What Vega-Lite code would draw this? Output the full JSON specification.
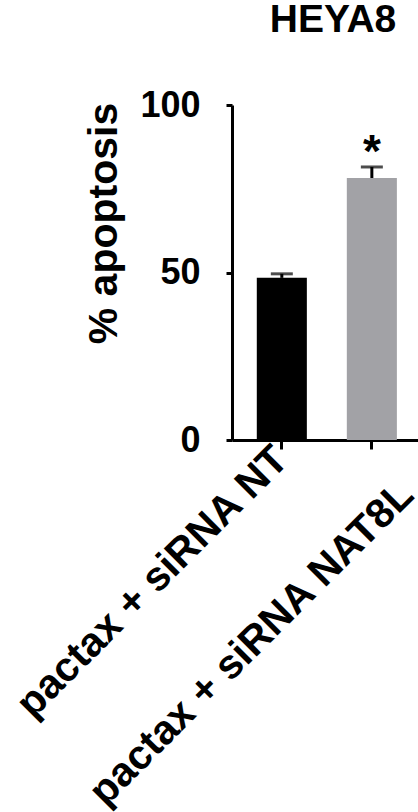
{
  "$schema": "https://vega.github.io/schema/vega-lite/v6.json",
  "width": 186,
  "height": 335,
  "autosize": {"type": "none"},
  "padding": {"left": 232, "top": 105, "right": 0, "bottom": 372},
  "background": "white",
  "config": {"view": {"stroke": null}, "font": "Liberation Sans"},
  "title": {"text": "HEYA8", "fontSize": 39, "font": "Liberation Sans", "fontWeight": "bold", "anchor": "middle", "offset": 47, "dx": 8, "color": "black"},
  "data": {"values": [
    {"group": "pactax + siRNA NT", "value": 48.4, "upper": 49.6, "sig": ""},
    {"group": "pactax + siRNA NAT8L", "value": 78.2, "upper": 81.5, "sig": "*"}
  ]},
  "encoding": {
    "x": {"field": "group", "type": "nominal", "sort": null,
      "scale": {"paddingInner": 0.444, "paddingOuter": 0.255, "align": 0.54},
      "axis": {"title": null, "labelAngle": -45, "labelAlign": "right", "labelBaseline": "middle", "labelFontSize": 41, "labelFontWeight": "bold", "labelColor": "black", "labelLimit": 0,
        "labelExpr": "datum.value === 'pactax + siRNA NAT8L' ? ['', datum.value] : datum.value",
        "labelLineHeight": 50,
        "labelPadding": 4,
        "tickSize": 9, "tickWidth": 3, "tickColor": "black", "domainWidth": 3, "domainColor": "black", "grid": false}
    }
  },
  "layer": [
    {"mark": {"type": "bar"},
     "encoding": {
       "y": {"field": "value", "type": "quantitative", "scale": {"domain": [0, 100]},
         "axis": {"title": "% apoptosis", "titleFontSize": 41, "titleFontWeight": "bold", "titleColor": "black", "titleX": -128, "titleY": 118, "titleAngle": -90, "titleAlign": "center", "titleBaseline": "middle",
           "values": [0, 50, 100], "grid": false, "labelFontSize": 36, "labelFontWeight": "bold", "labelColor": "black", "labelPadding": 26, "labelFlush": false, "tickSize": 6, "tickWidth": 3, "tickColor": "black", "domainWidth": 3, "domainColor": "black"}},
       "color": {"field": "group", "type": "nominal", "scale": {"domain": ["pactax + siRNA NT", "pactax + siRNA NAT8L"], "range": ["#000000", "#a2a2a6"]}, "legend": null}
     }},
    {"mark": {"type": "rule", "strokeWidth": 3, "color": "black"},
     "encoding": {"y": {"field": "value", "type": "quantitative"}, "y2": {"field": "upper"}}},
    {"mark": {"type": "tick", "thickness": 3, "size": 22, "color": "black"},
     "encoding": {"y": {"field": "upper", "type": "quantitative"}}},
    {"mark": {"type": "text", "fontSize": 46, "fontWeight": "bold", "baseline": "alphabetic", "color": "black"},
     "encoding": {"y": {"field": "upper", "type": "quantitative"}, "text": {"field": "sig"}}}
  ]
}
